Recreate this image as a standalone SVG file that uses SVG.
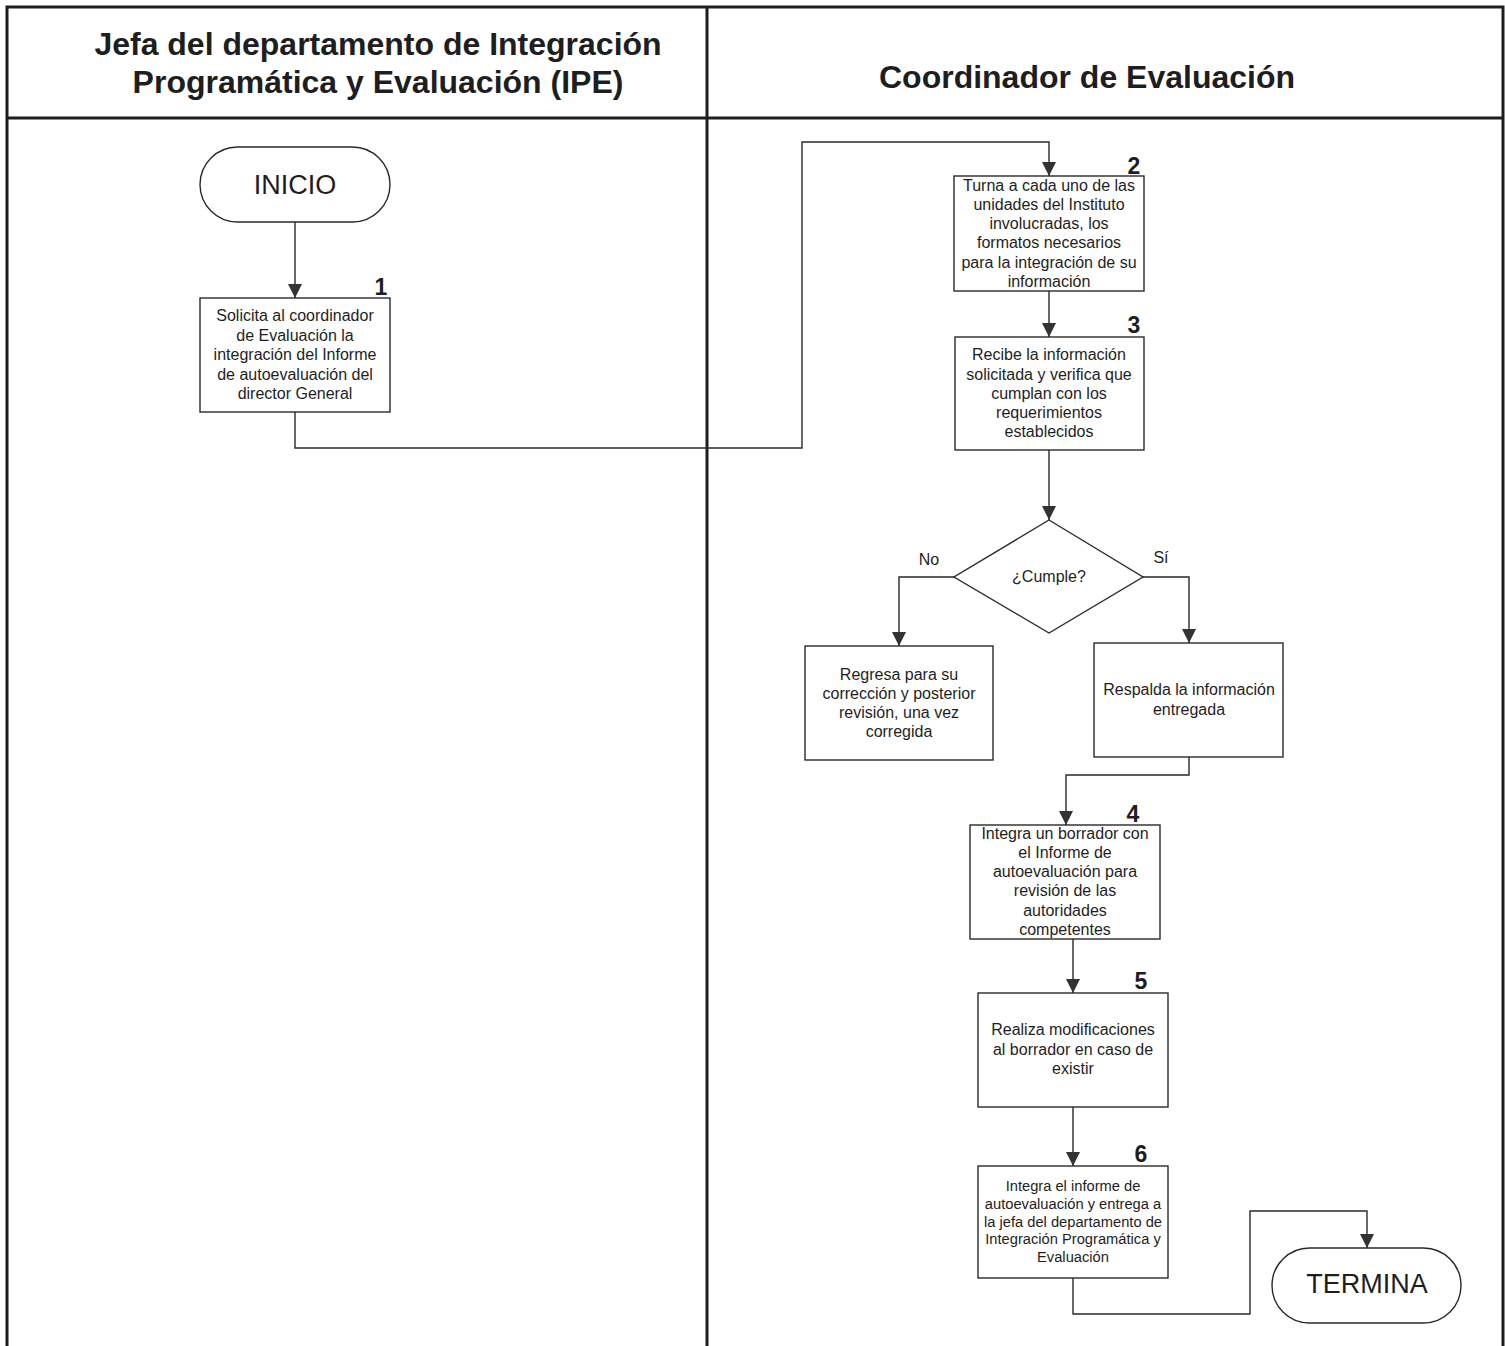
<svg xmlns="http://www.w3.org/2000/svg" width="1505" height="1346" viewBox="0 0 1505 1346">
  <style>
    .frame { fill: none; stroke: #1e1e1e; stroke-width: 3; }
    .box { fill: #ffffff; stroke: #2a2a2a; stroke-width: 1.4; }
    .conn { fill: none; stroke: #2a2a2a; stroke-width: 1.4; }
    .hdr { font-family: "Liberation Sans", Arial, sans-serif; font-weight: bold; font-size: 32px; fill: #1e1e1e; text-anchor: middle; }
    .txt { font-family: "Liberation Sans", Arial, sans-serif; font-size: 16px; fill: #1e1e1e; text-anchor: middle; }
    .tiny { font-size: 14.7px; }
    .term { font-family: "Liberation Sans", Arial, sans-serif; font-size: 27px; fill: #1e1e1e; text-anchor: middle; }
    .num { font-family: "Liberation Sans", Arial, sans-serif; font-weight: bold; font-size: 23px; fill: #1e1e1e; text-anchor: middle; }
  </style>
  <defs>
    <marker id="arrow" viewBox="0 0 14 14" refX="14" refY="7" markerWidth="14" markerHeight="14" markerUnits="userSpaceOnUse" orient="auto">
      <path d="M0,0 L14,7 L0,14 Z" fill="#333333"/>
    </marker>
  </defs>

  <rect width="1505" height="1346" fill="#ffffff"/>

  <!-- Swimlane frame -->
  <g id="lanes">
    <path class="frame" d="M7,1346 V7 H1503 V1346"/>
    <line class="frame" x1="7" y1="118" x2="1503" y2="118"/>
    <line class="frame" x1="707" y1="7" x2="707" y2="1346"/>
    <text class="hdr" x="378" y="55">Jefa del departamento de Integración</text>
    <text class="hdr" x="378" y="93">Programática y Evaluación (IPE)</text>
    <text class="hdr" x="1087" y="88">Coordinador de Evaluación</text>
  </g>

  <!-- Connectors -->
  <g id="connectors">
    <path class="conn" d="M295,222 V298" marker-end="url(#arrow)"/>
    <path class="conn" d="M295,412 V448 H802 V142 H1049 V176" marker-end="url(#arrow)"/>
    <path class="conn" d="M1049,291 V337" marker-end="url(#arrow)"/>
    <path class="conn" d="M1049,450 V520" marker-end="url(#arrow)"/>
    <path class="conn" d="M954,577 H899 V646" marker-end="url(#arrow)"/>
    <path class="conn" d="M1143,577 H1189 V643" marker-end="url(#arrow)"/>
    <path class="conn" d="M1189,757 V775 H1066 V825" marker-end="url(#arrow)"/>
    <path class="conn" d="M1073,939 V993" marker-end="url(#arrow)"/>
    <path class="conn" d="M1073,1107 V1166" marker-end="url(#arrow)"/>
    <path class="conn" d="M1073,1278 V1314 H1250 V1211 H1367 V1248" marker-end="url(#arrow)"/>
    <text class="txt" x="929" y="565">No</text>
    <text class="txt" x="1161" y="563">Sí</text>
  </g>

  <g id="inicio">
    <rect class="box" x="200" y="147" width="190" height="75" rx="37.5"/>
    <text class="term" x="295" y="194">INICIO</text>
  </g>

  <g id="step1">
    <rect class="box" x="200" y="298" width="190" height="114"/>
    <text class="num" x="381" y="295">1</text>
    <text class="txt" x="295" y="321">Solicita al coordinador</text>
    <text class="txt" x="295" y="341">de Evaluación la</text>
    <text class="txt" x="295" y="360">integración del Informe</text>
    <text class="txt" x="295" y="380">de autoevaluación del</text>
    <text class="txt" x="295" y="399">director General</text>
  </g>

  <g id="step2">
    <rect class="box" x="954" y="176" width="190" height="115"/>
    <text class="num" x="1134" y="174">2</text>
    <text class="txt" x="1049" y="191">Turna a cada uno de las</text>
    <text class="txt" x="1049" y="210">unidades del Instituto</text>
    <text class="txt" x="1049" y="229">involucradas, los</text>
    <text class="txt" x="1049" y="248">formatos necesarios</text>
    <text class="txt" x="1049" y="268">para la integración de su</text>
    <text class="txt" x="1049" y="287">información</text>
  </g>

  <g id="step3">
    <rect class="box" x="955" y="337" width="189" height="113"/>
    <text class="num" x="1134" y="333">3</text>
    <text class="txt" x="1049" y="360">Recibe la información</text>
    <text class="txt" x="1049" y="380">solicitada y verifica que</text>
    <text class="txt" x="1049" y="399">cumplan con los</text>
    <text class="txt" x="1049" y="418">requerimientos</text>
    <text class="txt" x="1049" y="437">establecidos</text>
  </g>

  <g id="decision">
    <polygon class="box" points="1049,520 1143,577 1049,633 954,577"/>
    <text class="txt" x="1049" y="582">¿Cumple?</text>
  </g>

  <g id="regresa">
    <rect class="box" x="805" y="646" width="188" height="114"/>
    <text class="txt" x="899" y="680">Regresa para su</text>
    <text class="txt" x="899" y="699">corrección y posterior</text>
    <text class="txt" x="899" y="718">revisión, una vez</text>
    <text class="txt" x="899" y="737">corregida</text>
  </g>

  <g id="respalda">
    <rect class="box" x="1094" y="643" width="189" height="114"/>
    <text class="txt" x="1189" y="695">Respalda la información</text>
    <text class="txt" x="1189" y="715">entregada</text>
  </g>

  <g id="step4">
    <rect class="box" x="970" y="825" width="190" height="114"/>
    <text class="num" x="1133" y="822">4</text>
    <text class="txt" x="1065" y="839">Integra un borrador con</text>
    <text class="txt" x="1065" y="858">el Informe de</text>
    <text class="txt" x="1065" y="877">autoevaluación para</text>
    <text class="txt" x="1065" y="896">revisión de las</text>
    <text class="txt" x="1065" y="916">autoridades</text>
    <text class="txt" x="1065" y="935">competentes</text>
  </g>

  <g id="step5">
    <rect class="box" x="978" y="993" width="190" height="114"/>
    <text class="num" x="1141" y="989">5</text>
    <text class="txt" x="1073" y="1035">Realiza modificaciones</text>
    <text class="txt" x="1073" y="1055">al borrador en caso de</text>
    <text class="txt" x="1073" y="1074">existir</text>
  </g>

  <g id="step6">
    <rect class="box" x="978" y="1166" width="190" height="112"/>
    <text class="num" x="1141" y="1162">6</text>
    <text class="txt tiny" x="1073" y="1191">Integra el informe de</text>
    <text class="txt tiny" x="1073" y="1209">autoevaluación y entrega a</text>
    <text class="txt tiny" x="1073" y="1227">la jefa del departamento de</text>
    <text class="txt tiny" x="1073" y="1244">Integración Programática y</text>
    <text class="txt tiny" x="1073" y="1262">Evaluación</text>
  </g>

  <g id="termina">
    <rect class="box" x="1272" y="1248" width="189" height="75" rx="37.5"/>
    <text class="term" x="1367" y="1293">TERMINA</text>
  </g>
</svg>
